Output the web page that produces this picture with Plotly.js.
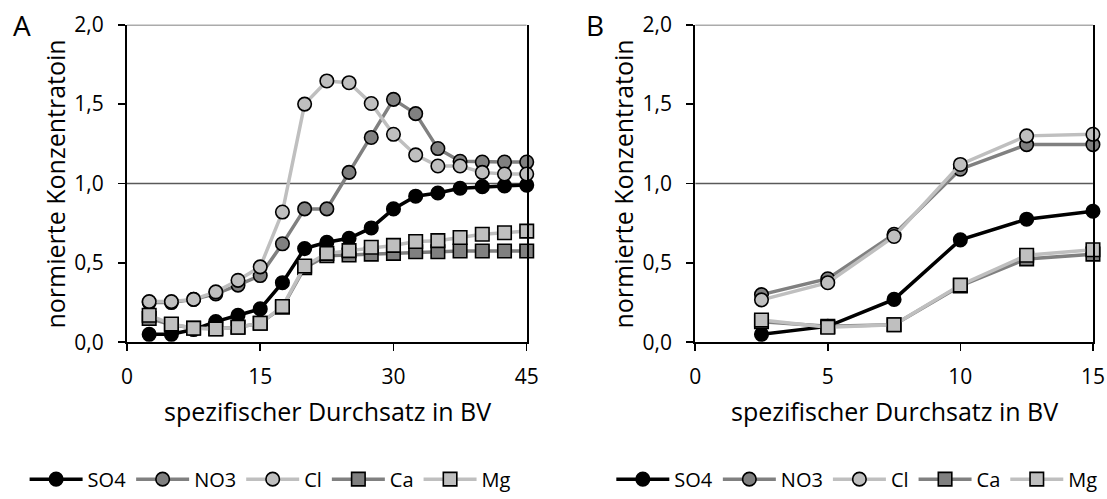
<!DOCTYPE html>
<html><head><meta charset="utf-8">
<script src="https://cdn.plot.ly/plotly-3.0.1.min.js"></script>
<style>html,body{margin:0;padding:0;background:#fff}#chart{width:1107px;height:499px}</style>
</head><body><div id="chart"></div>
<script>
const xA = [2.5,5,7.5,10,12.5,15,17.5,20,22.5,25,27.5,30,32.5,35,37.5,40,42.5,45];
const so4A = [0.05,0.05,0.08,0.13,0.17,0.21,0.375,0.59,0.63,0.655,0.72,0.84,0.92,0.94,0.97,0.98,0.985,0.99];
const no3A = [0.25,0.25,0.27,0.305,0.36,0.42,0.62,0.84,0.84,1.07,1.29,1.53,1.44,1.22,1.14,1.135,1.135,1.135];
const clA  = [0.256,0.256,0.27,0.317,0.39,0.475,0.82,1.50,1.646,1.635,1.504,1.31,1.18,1.11,1.11,1.07,1.06,1.06];
const caA  = [0.15,0.11,0.09,0.085,0.095,0.12,0.22,0.47,0.545,0.55,0.555,0.56,0.57,0.57,0.575,0.575,0.575,0.575];
const mgA  = [0.17,0.115,0.088,0.083,0.094,0.12,0.225,0.48,0.56,0.577,0.598,0.61,0.635,0.64,0.66,0.68,0.69,0.70];

const xB = [2.5,5,7.5,10,12.5,15];
const so4B = [0.05,0.10,0.27,0.645,0.775,0.825];
const no3B = [0.30,0.40,0.68,1.09,1.245,1.245];
const clB  = [0.267,0.375,0.666,1.12,1.30,1.31];
const caB  = [0.13,0.10,0.11,0.355,0.525,0.555];
const mgB  = [0.14,0.094,0.11,0.36,0.548,0.583];

const names = ['SO4','NO3','Cl','Ca','Mg'];
const yTicks = [0,0.5,1,1.5,2];
const yTickText = ['0,0','0,5','1,0','1,5','2,0'];
const xTicksA = [0,15,30,45];
const xTicksB = [0,5,10,15];
const yTitle = 'normierte Konzentratoin';
const xTitle = 'spezifischer Durchsatz in BV';

const lineCol = ['#000000','#808080','#bfbfbf','#808080','#bfbfbf'];
const markCol = ['#000000','#808080','#bfbfbf','#808080','#bfbfbf'];
const sym = ['circle','circle','circle','square','square'];

const FONT = 'Open Sans, Liberation Sans, sans-serif';
const TICKFS = 21, TITLEFS = 25, LEGFS = 20;
const dataA = [so4A,no3A,clA,caA,mgA];
const dataB = [so4B,no3B,clB,caB,mgB];
const traces = [];
function addTraces(xs, ds, xa, ya, leg){
  [0,1,2,3,4].forEach(i=>{
    traces.push({
      x: xs, y: ds[i], xaxis: xa, yaxis: ya, name: names[i], legend: leg,
      type:'scatter', mode:'lines+markers', cliponaxis:false,
      line:{color:lineCol[i], width:3.5},
      marker:{symbol:sym[i], size:13.5, color:markCol[i], line:{color:'#000', width:1.6}}
    });
  });
}
addTraces(xA, dataA, 'x', 'y', 'legend');
addTraces(xB, dataB, 'x2', 'y2', 'legend2');

const yBase = {
  range:[0,2], tickvals:yTicks, ticktext:yTickText, ticks:'outside', ticklen:7, tickwidth:1.5,
  tickcolor:'#000', showline:true, linecolor:'#000', linewidth:2, mirror:true, showgrid:false,
  zeroline:false, tickfont:{family:FONT, size:TICKFS, color:'#000'}, ticklabelstandoff:10,
  domain:[0.3086,0.95]
};
const xBase = {
  ticks:'outside', ticklen:7, tickwidth:1.5, tickcolor:'#000', showline:true, linecolor:'#000',
  linewidth:2, showgrid:false, zeroline:false, tickfont:{family:FONT, size:TICKFS, color:'#000'},
  ticklabelstandoff:8
};
function hline(xref,yref,y,x0,x1){
  return {type:'line', xref:xref, yref:yref, x0:x0, x1:x1, y0:y, y1:y, line:{color:'#595959', width:1.5}, layer:'below'};
}
const legBase = {orientation:'h', xanchor:'center', yanchor:'middle', y:0.032, itemwidth:53,
  font:{family:FONT, size:LEGFS, color:'#000'}, traceorder:'normal', bgcolor:'rgba(0,0,0,0)'};
function ann(text, px, py, size, angle){
  return {text:text, xref:'paper', yref:'paper', x:px/1107, y:1-py/499, showarrow:false,
    xanchor:'center', yanchor:'middle', textangle:angle||0, font:{family:FONT, size:size, color:'#000'}};
}

const layout = {
  width:1107, height:499, margin:{l:0,r:0,t:0,b:0}, paper_bgcolor:'#fff', plot_bgcolor:'#fff',
  showlegend:true,
  xaxis: Object.assign({}, xBase, {range:[0,45], tickvals:xTicksA, domain:[0.1147,0.4758], anchor:'y'}),
  yaxis: Object.assign({}, yBase, {anchor:'x'}),
  xaxis2: Object.assign({}, xBase, {range:[0,15], tickvals:xTicksB, domain:[0.628,0.9873], anchor:'y2'}),
  yaxis2: Object.assign({}, yBase, {anchor:'x2'}),
  legend: Object.assign({}, legBase, {x:0.244}),
  legend2: Object.assign({}, legBase, {x:0.774}),
  shapes:[hline('x','y',1,0,45), hline('x','y',2,0,45), hline('x2','y2',1,0,15), hline('x2','y2',2,0,15)],
  annotations:[
    ann('A', 22, 25, 28), ann('B', 595, 25, 28),
    ann(yTitle, 55, 186, TITLEFS, -90), ann(yTitle, 623, 186, TITLEFS, -90),
    ann(xTitle, 327, 414, TITLEFS), ann(xTitle, 894, 414, TITLEFS)
  ]
};
Plotly.newPlot('chart', traces, layout, {staticPlot:true, displayModeBar:false});
</script></body></html>
